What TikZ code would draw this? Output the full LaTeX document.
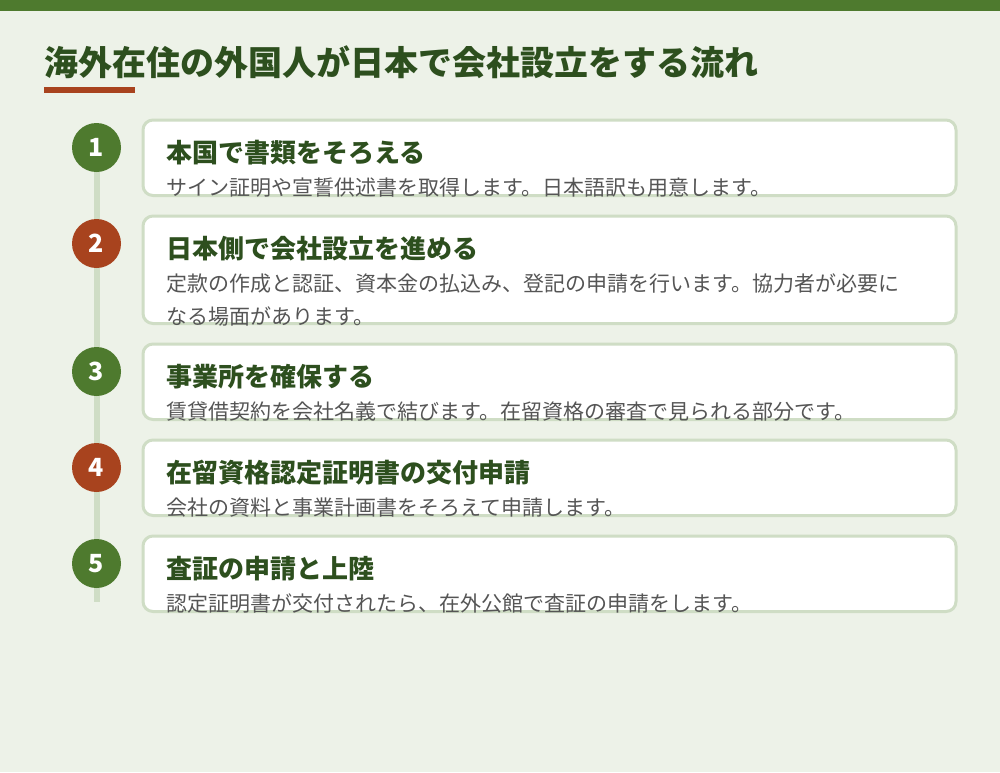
\documentclass[tikz,border=0pt]{standalone}
\usepackage{fontspec}
\setmainfont{Noto Sans CJK JP}
\definecolor{bg}{HTML}{EDF2E8}
\definecolor{topbar}{HTML}{4E7A2E}
\definecolor{titlegreen}{HTML}{2D4F1E}
\definecolor{accent}{HTML}{A8431E}
\definecolor{cardline}{HTML}{CFDDC5}
\definecolor{descgray}{HTML}{555555}
\definecolor{numgreen}{HTML}{4E7A2E}
\definecolor{numred}{HTML}{A8431E}
\begin{document}
\begin{tikzpicture}[x=1pt,y=-1pt,
  stepcard/.style={draw=cardline, line width=3pt, fill=white, rounded corners=10pt,
    anchor=north west, minimum width=813pt, inner sep=0pt},
  stepnum/.style={circle, minimum size=49pt, inner sep=0pt, text=white,
    font=\fontsize{25}{25}\selectfont\bfseries},
  steptitle/.style={anchor=base west, inner sep=0pt, text=titlegreen,
    font=\fontsize{26}{26}\selectfont\bfseries},
  stepdesc/.style={anchor=base west, inner sep=0pt, text=descgray,
    font=\fontsize{21}{33}\selectfont, align=left},
  maintitle/.style={anchor=base west, inner sep=0pt, text=titlegreen,
    font=\fontsize{34}{34}\selectfont\bfseries},
  timeline/.style={draw=cardline, line width=6pt}]
\useasboundingbox (0,0) rectangle (1000,772);
\fill[bg] (0,0) rectangle (1000,772);
\fill[topbar] (0,0) rectangle (1000,10.5);
\node[maintitle] (title) at (44,75.5) {海外在住の外国人が日本で会社設立をする流れ};
\fill[accent] (44,87) rectangle (135,93);

% cards
\node[stepcard, minimum height=75.5pt] (b1) at (141.5,118.5) {};
\node[stepcard, minimum height=107.5pt] (b2) at (141.5,214.5) {};
\node[stepcard, minimum height=75.5pt] (b3) at (141.5,342.5) {};
\node[stepcard, minimum height=75.5pt] (b4) at (141.5,438.5) {};
\node[stepcard, minimum height=75.5pt] (b5) at (141.5,534.5) {};

% timeline
\coordinate (c1pos) at (96.5,147.5);
\coordinate (lineend) at (96.5,602);
\draw[timeline] (c1pos) -- (lineend);

% numbers
\node[stepnum, fill=numgreen] (n1) at (96.5,147.5) {1};
\node[stepnum, fill=numred] (n2) at (96.5,243.5) {2};
\node[stepnum, fill=numgreen] (n3) at (96.5,371.5) {3};
\node[stepnum, fill=numred] (n4) at (96.5,467.5) {4};
\node[stepnum, fill=numgreen] (n5) at (96.5,563.5) {5};

% texts
\node[steptitle] (t1) at (166,162) {本国で書類をそろえる};
\node[stepdesc] (d1) at (166,195.5) {サイン証明や宣誓供述書を取得します。日本語訳も用意します。};
\node[steptitle] (t2) at (166,258) {日本側で会社設立を進める};
\node[stepdesc] (d2) at (166,324.5) {定款の作成と認証、資本金の払込み、登記の申請を行います。協力者が必要に\\なる場面があります。};
\node[steptitle] (t3) at (166,386) {事業所を確保する};
\node[stepdesc] (d3) at (166,419.5) {賃貸借契約を会社名義で結びます。在留資格の審査で見られる部分です。};
\node[steptitle] (t4) at (166,482) {在留資格認定証明書の交付申請};
\node[stepdesc] (d4) at (166,515.5) {会社の資料と事業計画書をそろえて申請します。};
\node[steptitle] (t5) at (166,578) {査証の申請と上陸};
\node[stepdesc] (d5) at (166,611.5) {認定証明書が交付されたら、在外公館で査証の申請をします。};
\end{tikzpicture}
\end{document}
